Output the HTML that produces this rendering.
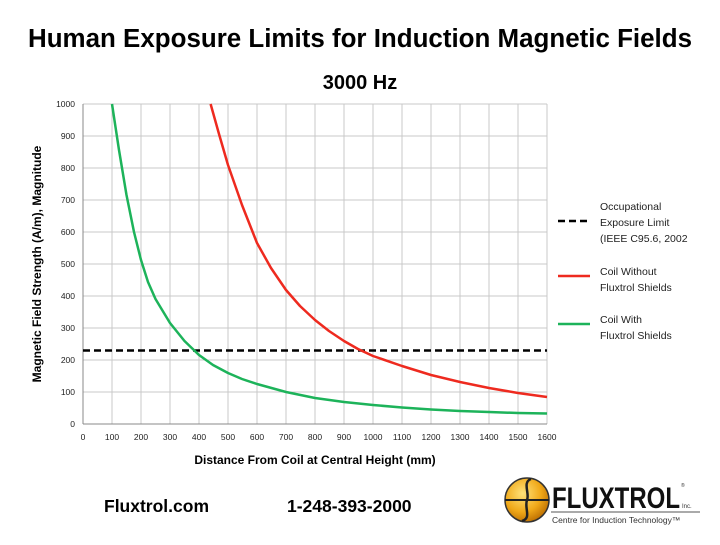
<!DOCTYPE html>
<html><head><style>
body{margin:0;background:#fff;width:720px;height:540px;overflow:hidden;font-family:"Liberation Sans",sans-serif}
</style></head><body>
<svg width="720" height="540" xmlns="http://www.w3.org/2000/svg" font-family="Liberation Sans, sans-serif">
<text x="360" y="47" text-anchor="middle" font-size="25.5" font-weight="bold" textLength="664" lengthAdjust="spacingAndGlyphs">Human Exposure Limits for Induction Magnetic Fields</text>
<text x="360" y="89" text-anchor="middle" font-size="20" font-weight="bold">3000 Hz</text>
<g stroke="#c8c8c8" stroke-width="1">
<line x1="83" y1="104" x2="547" y2="104"/><line x1="83" y1="136" x2="547" y2="136"/><line x1="83" y1="168" x2="547" y2="168"/><line x1="83" y1="200" x2="547" y2="200"/><line x1="83" y1="232" x2="547" y2="232"/><line x1="83" y1="264" x2="547" y2="264"/><line x1="83" y1="296" x2="547" y2="296"/><line x1="83" y1="328" x2="547" y2="328"/><line x1="83" y1="360" x2="547" y2="360"/><line x1="83" y1="392" x2="547" y2="392"/>
<line x1="112" y1="104" x2="112" y2="424"/><line x1="141" y1="104" x2="141" y2="424"/><line x1="170" y1="104" x2="170" y2="424"/><line x1="199" y1="104" x2="199" y2="424"/><line x1="228" y1="104" x2="228" y2="424"/><line x1="257" y1="104" x2="257" y2="424"/><line x1="286" y1="104" x2="286" y2="424"/><line x1="315" y1="104" x2="315" y2="424"/><line x1="344" y1="104" x2="344" y2="424"/><line x1="373" y1="104" x2="373" y2="424"/><line x1="402" y1="104" x2="402" y2="424"/><line x1="431" y1="104" x2="431" y2="424"/><line x1="460" y1="104" x2="460" y2="424"/><line x1="489" y1="104" x2="489" y2="424"/><line x1="518" y1="104" x2="518" y2="424"/><line x1="547" y1="104" x2="547" y2="424"/>
</g>
<g stroke="#888" stroke-width="1"><line x1="83" y1="104" x2="83" y2="424"/><line x1="83" y1="424" x2="547" y2="424"/></g>
<g font-size="8.5" fill="#222" text-anchor="end">
<text x="75" y="107">1000</text><text x="75" y="139">900</text><text x="75" y="171">800</text><text x="75" y="203">700</text><text x="75" y="235">600</text><text x="75" y="267">500</text><text x="75" y="299">400</text><text x="75" y="331">300</text><text x="75" y="363">200</text><text x="75" y="395">100</text><text x="75" y="427">0</text>
</g>
<g font-size="8.5" fill="#222" text-anchor="middle">
<text x="83" y="440">0</text><text x="112" y="440">100</text><text x="141" y="440">200</text><text x="170" y="440">300</text><text x="199" y="440">400</text><text x="228" y="440">500</text><text x="257" y="440">600</text><text x="286" y="440">700</text><text x="315" y="440">800</text><text x="344" y="440">900</text><text x="373" y="440">1000</text><text x="402" y="440">1100</text><text x="431" y="440">1200</text><text x="460" y="440">1300</text><text x="489" y="440">1400</text><text x="518" y="440">1500</text><text x="547" y="440">1600</text>
</g>
<text x="315" y="464" text-anchor="middle" font-size="12" font-weight="bold">Distance From Coil at Central Height (mm)</text>
<text transform="translate(41,264) rotate(-90)" text-anchor="middle" font-size="12" font-weight="bold">Magnetic Field Strength (A/m), Magnitude</text>
<line x1="83" y1="350.5" x2="547" y2="350.5" stroke="#000" stroke-width="2.5" stroke-dasharray="7,4"/>
<polyline fill="none" stroke="#ee2a1f" stroke-width="2.5" stroke-linejoin="round" points="210.6,104 219,134 228,165 242,205 257,243 271,268 286,290 300,306 315,320 329,331 344,341 358,349 373,356 402,366 431,375 460,382 489,388 518,393 547,397"/>
<polyline fill="none" stroke="#1db35a" stroke-width="2.5" stroke-linejoin="round" points="112,104 119,150 126.5,195 134,232 141,260 148,282 155.5,299 170,323 184.5,341 199,355 213,365 228,373 242,379 257,384 286,392 315,398 344,402 373,405 402,407.5 431,409.5 460,411 489,412 518,413 547,413.5"/>
<line x1="558" y1="221" x2="590" y2="221" stroke="#000" stroke-width="2.5" stroke-dasharray="7,4"/>
<line x1="558" y1="276" x2="590" y2="276" stroke="#ee2a1f" stroke-width="2.5"/>
<line x1="558" y1="324" x2="590" y2="324" stroke="#1db35a" stroke-width="2.5"/>
<g font-size="10.5" fill="#222">
<text x="600" y="210">Occupational</text><text x="600" y="226">Exposure Limit</text><text x="600" y="242">(IEEE C95.6, 2002</text>
<text x="600" y="275">Coil Without</text><text x="600" y="291">Fluxtrol Shields</text>
<text x="600" y="323">Coil With</text><text x="600" y="339">Fluxtrol Shields</text>
</g>
<text x="104" y="512" font-size="17.5" font-weight="bold">Fluxtrol.com</text>
<text x="287" y="512" font-size="17.5" font-weight="bold">1-248-393-2000</text>
<defs><radialGradient id="g" cx="40%" cy="35%" r="70%"><stop offset="0" stop-color="#ffe27a"/><stop offset="0.6" stop-color="#f0a818"/><stop offset="1" stop-color="#b86a00"/></radialGradient></defs>
<circle cx="527" cy="500" r="22" fill="url(#g)" stroke="#333" stroke-width="1.5"/>
<line x1="505" y1="500" x2="549" y2="500" stroke="#222" stroke-width="2"/>
<path d="M531 479 C522 482 530 494 527 500 C524 508 532 518 522 521" fill="none" stroke="#222" stroke-width="2.5"/>
<text x="552" y="508" font-size="30" font-weight="bold" fill="#111" textLength="128" lengthAdjust="spacingAndGlyphs">FLUXTROL</text>
<text x="682" y="508" font-size="6" fill="#333">Inc.</text>
<text x="681" y="487" font-size="5" fill="#333">®</text>
<line x1="551" y1="512" x2="700" y2="512" stroke="#555" stroke-width="1"/>
<text x="552" y="523" font-size="8.5" fill="#333">Centre for Induction Technology™</text>
</svg>
</body></html>
